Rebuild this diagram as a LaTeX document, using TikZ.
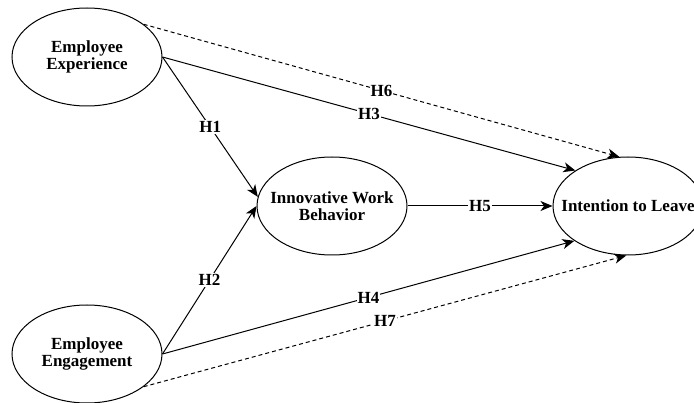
\documentclass[tikz,border=0pt]{standalone}
\usepackage{fontspec}
\setmainfont{Liberation Serif}
\usetikzlibrary{shapes.geometric,arrows.meta}
\begin{document}
\begin{tikzpicture}[x=1pt,y=-1pt,
  bold17/.style={font=\fontsize{17}{17}\selectfont\bfseries},
  construct/.style={ellipse,draw,line width=1pt,inner sep=0pt,
    minimum width=150pt,minimum height=98pt,
    label={[bold17,align=center]center:#1}},
  path/.style={line width=1pt,-{Stealth[length=12pt,width=10pt,inset=3.5pt]}},
  indirect/.style={path,dash pattern=on 4pt off 3pt},
  hyp/.style={fill=white,inner sep=1pt,bold17}]
  \useasboundingbox (0,0) rectangle (694,403);
  \begin{scope}
    \clip (0,0) rectangle (694,403);
    \node[construct={Employee\\Experience}] (EX) at (87,57) {};
    \node[construct={Employee\\Engagement}] (EG) at (87,354) {};
    \node[construct={Innovative Work\\Behavior}] (IW) at (332,206) {};
    \node[construct={Intention to Leave}] (IL) at (628,206) {};

    % indirect (mediated) paths
    \draw[indirect] (EX.30) -- node[hyp]{H6} (IL.100);
    \draw[indirect] (EG.-30) -- node[hyp]{H7} (IL.268);

    % direct paths
    \draw[path] (EX.east) -- node[hyp]{H3} (IL.146);
    \draw[path] (EG.east) -- node[hyp]{H4} (IL.213);
    \draw[path] (EX.east) -- node[hyp]{H1} (IW.173);
    \draw[path] (EG.east) -- node[hyp]{H2} (IW.west);
    \draw[path] (IW.east) -- node[hyp]{H5} (IL.west);
  \end{scope}
\end{tikzpicture}
\end{document}
